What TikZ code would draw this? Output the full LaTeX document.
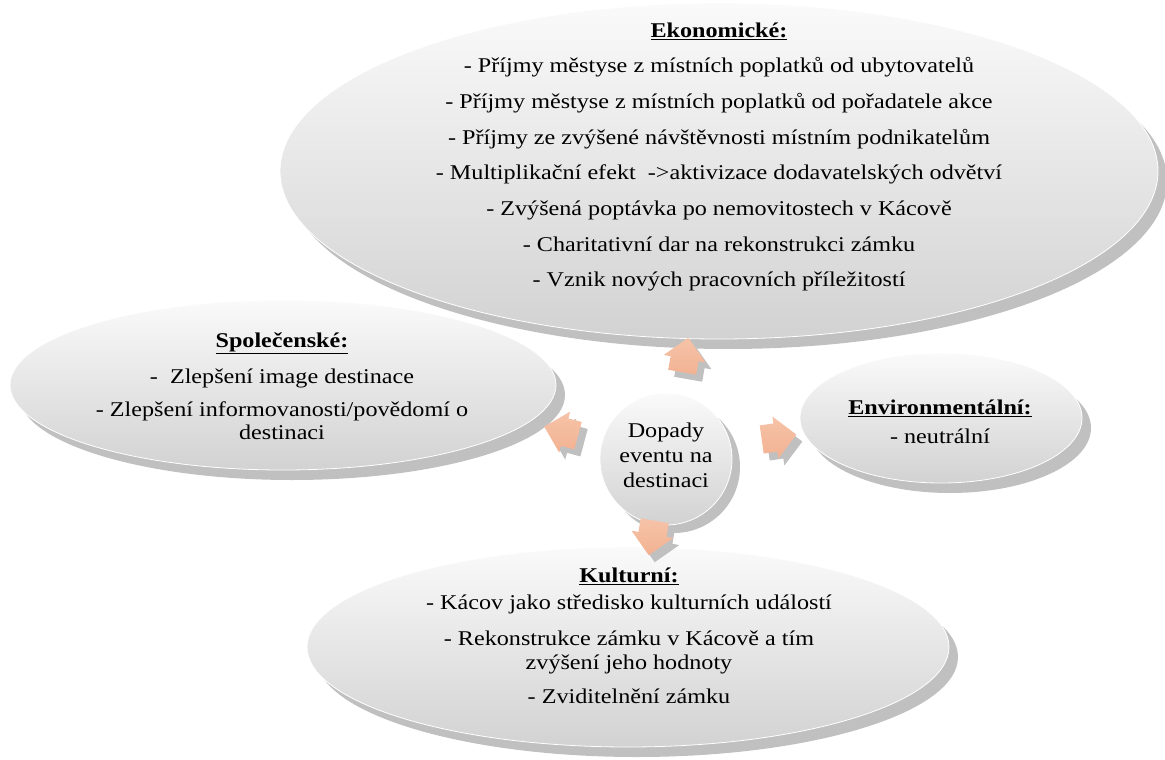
\documentclass[tikz,border=0pt]{standalone}
\usepackage{fontspec}
\setmainfont[FakeStretch=1.15]{Liberation Serif}
\usetikzlibrary{shapes.geometric,shapes.arrows,shadows}

\definecolor{shadowgray}{HTML}{C0C0C0}
\definecolor{bubbletop}{HTML}{FAFAFA}
\definecolor{bubblebottom}{HTML}{D2D2D2}
\definecolor{arrowfill}{HTML}{F2B292}
\definecolor{arrowlight}{HTML}{F6C3A8}

\tikzset{
  bubble/.style={ellipse, inner sep=0pt, top color=bubbletop, bottom color=bubblebottom,
    draw=white, line width=0.8pt,
    drop shadow={shadow xshift=9pt, shadow yshift=-10pt, fill=shadowgray, opacity=1}},
  hub/.style={circle, inner sep=0pt, top color=bubbletop, bottom color=bubblebottom,
    draw=white, line width=0.8pt,
    drop shadow={shadow xshift=8pt, shadow yshift=-8pt, fill=shadowgray, opacity=1}},
  blocktext/.style={align=center, font=\fontsize{21}{23}\selectfont, inner sep=0pt},
  impact/.style={single arrow, inner xsep=0pt, inner ysep=14pt, minimum height=35pt,
    single arrow head extend=7pt, top color=arrowlight, bottom color=arrowfill, draw=none,
    drop shadow={shadow xshift=6pt, shadow yshift=-7pt, fill=shadowgray, opacity=1}},
}
\newcommand{\heading}[1]{\underline{\textbf{#1}}}

\begin{document}
\begin{tikzpicture}[x=1pt,y=-1pt]
\useasboundingbox (0,0) rectangle (1165,760);

% category bubbles
\node[bubble, minimum width=878pt, minimum height=336pt] (eco) at (719,171) {};
\node[bubble, minimum width=546pt, minimum height=170pt] (soc) at (283,385) {};
\node[bubble, minimum width=282pt, minimum height=130pt] (env) at (941,418) {};
\node[bubble, minimum width=642pt, minimum height=200pt] (cult) at (628,647) {};

% central topic
\node[hub, minimum size=132pt] (hub) at (666,459) {};

% arrows pointing from the centre to the categories
\node[impact, rotate=80]  (toEco)  at (684,362) {};
\node[impact, rotate=165] (toSoc)  at (568,433) {};
\node[impact, rotate=8]   (toEnv)  at (772,438) {};
\node[impact, rotate=260] (toCult) at (653,531) {};

% texts
\node[blocktext] (ecoText) at (719,157) {\heading{Ekonomické:}\\[12.7pt]
  - Příjmy městyse z místních poplatků od ubytovatelů\\[12.7pt]
  - Příjmy městyse z místních poplatků od pořadatele akce\\[12.7pt]
  - Příjmy ze zvýšené návštěvnosti místním podnikatelům\\[12.7pt]
  - Multiplikační efekt~ ->aktivizace dodavatelských odvětví\\[12.7pt]
  - Zvýšená poptávka po nemovitostech v Kácově\\[12.7pt]
  - Charitativní dar na rekonstrukci zámku\\[12.7pt]
  - Vznik nových pracovních příležitostí};

\node[blocktext] (socText) at (282,386) {\heading{Společenské:}\\[13pt]
  -~ Zlepšení image destinace\\[10pt]
  - Zlepšení informovanosti/povědomí o\\
  destinaci};

\node[blocktext] (envText) at (940,422) {\heading{Environmentální:}\\[6pt]
  - neutrální};

\node[blocktext] (cultText) at (629,636) {\heading{Kulturní:}\\[4pt]
  - Kácov jako středisko kulturních událostí\\[13pt]
  - Rekonstrukce zámku v Kácově a tím\\[1pt]
  zvýšení jeho hodnoty\\[11pt]
  - Zviditelnění zámku};

\node[blocktext] (hubText) at (666,455) {Dopady\\[2pt] eventu na\\[2pt] destinaci};
\end{tikzpicture}
\end{document}
